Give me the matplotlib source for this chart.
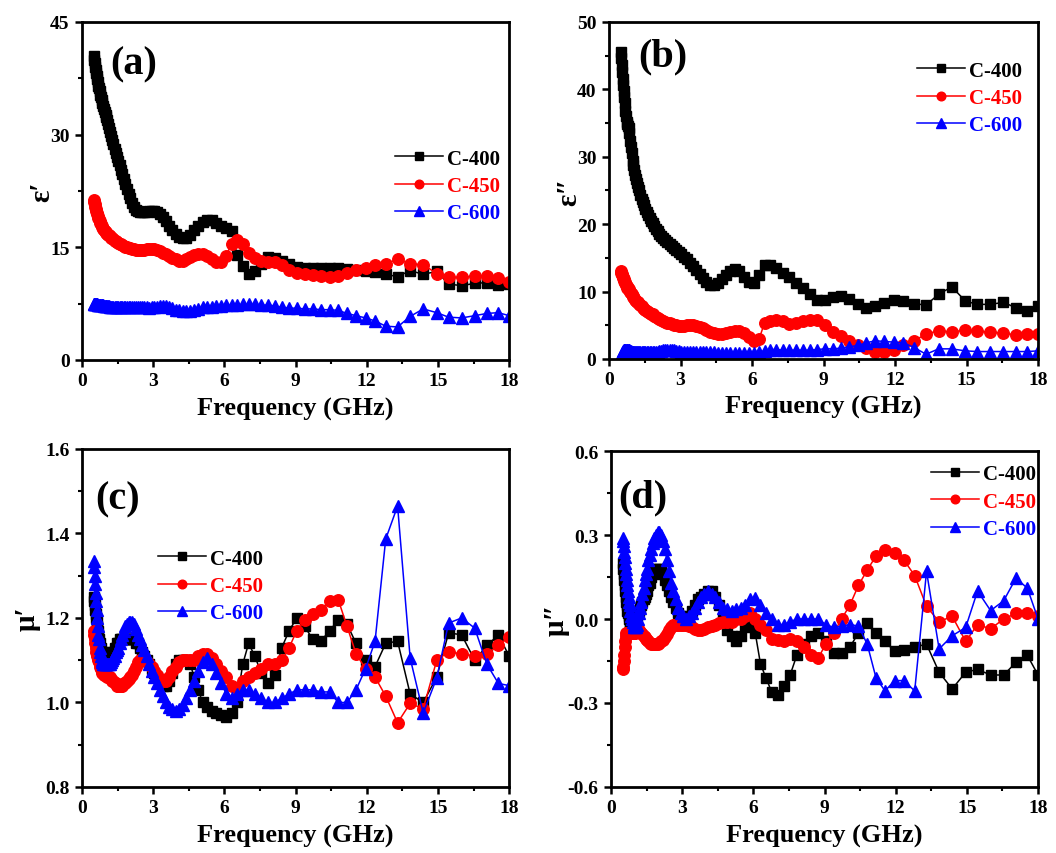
import matplotlib
matplotlib.use("Agg")
import matplotlib.pyplot as plt
from matplotlib.ticker import MultipleLocator

# ================ Data ================
FREQ = [0.50, 0.52, 0.54, 0.56, 0.58, 0.60, 0.62, 0.64, 0.66, 0.69,
        0.71, 0.74, 0.77, 0.79, 0.82, 0.85, 0.89, 0.92, 0.95, 0.99,
        1.02, 1.06, 1.10, 1.14, 1.18, 1.23, 1.27, 1.32, 1.37, 1.42,
        1.47, 1.52, 1.58, 1.64, 1.70, 1.76, 1.83, 1.90, 1.97, 2.04,
        2.11, 2.19, 2.27, 2.36, 2.45, 2.54, 2.63, 2.73, 2.83, 2.93,
        3.04, 3.16, 3.28, 3.40, 3.53, 3.66, 3.80, 3.94, 4.09, 4.24,
        4.40, 4.56, 4.73, 4.90, 5.08, 5.27, 5.46, 5.66, 5.87, 6.08,
        6.30, 6.53, 6.77, 7.02, 7.28, 7.55, 7.83, 8.12, 8.42, 8.73,
        9.05, 9.38, 9.72, 10.07, 10.43, 10.80, 11.17, 11.55, 11.95, 12.35,
        12.80, 13.30, 13.83, 14.38, 14.95, 15.45, 16.00, 16.55, 17.07, 17.55,
        18.00]

SAMPLES = ["C-400", "C-450", "C-600"]

# (a) real permittivity
EPS1_C400 = [40.5, 40.0, 39.5, 39.0, 38.6, 38.2, 37.8, 37.4, 37.0, 36.5,
             36.2, 35.8, 35.3, 35.0, 34.6, 34.2, 33.8, 33.4, 33.0, 32.6,
             32.3, 31.9, 31.4, 30.9, 30.4, 29.8, 29.3, 28.7, 28.1, 27.6,
             27.0, 26.5, 25.9, 25.3, 24.7, 24.1, 23.4, 22.7, 22.1, 21.5,
             20.9, 20.4, 20.0, 19.8, 19.7, 19.7, 19.7, 19.7, 19.8, 19.8,
             19.8, 19.7, 19.5, 19.1, 18.5, 17.9, 17.3, 16.8, 16.4, 16.2,
             16.3, 16.7, 17.3, 17.9, 18.4, 18.7, 18.6, 18.2, 17.9, 17.6,
             17.2, 14.0, 12.5, 11.5, 11.8, 12.8, 13.7, 13.6, 13.2, 12.8,
             12.4, 12.3, 12.3, 12.3, 12.3, 12.2, 12.1, 12.0, 11.9, 11.7,
             11.4, 11.1, 11.9, 11.4, 11.8, 10.1, 9.9, 10.2, 10.3, 10.0,
             10.1]
EPS1_C450 = [21.3, 21.0, 20.7, 20.4, 20.1, 19.9, 19.6, 19.4, 19.2, 18.9,
             18.8, 18.5, 18.3, 18.1, 17.9, 17.7, 17.5, 17.3, 17.2, 17.0,
             16.9, 16.8, 16.7, 16.6, 16.5, 16.3, 16.2, 16.1, 15.9, 15.8,
             15.7, 15.6, 15.5, 15.4, 15.3, 15.2, 15.1, 15.0, 14.9, 14.9,
             14.8, 14.8, 14.7, 14.7, 14.7, 14.7, 14.7, 14.8, 14.8, 14.8,
             14.8, 14.7, 14.5, 14.3, 14.1, 13.9, 13.6, 13.4, 13.2, 13.2,
             13.4, 13.7, 14.0, 14.1, 14.1, 13.9, 13.5, 13.1, 13.0, 13.9,
             15.5, 16.0, 15.4, 14.3, 13.6, 13.2, 13.1, 13.0, 12.6, 12.0,
             11.6, 11.4, 11.3, 11.2, 11.1, 11.2, 11.6, 12.0, 12.3, 12.6,
             12.8, 13.4, 12.8, 12.7, 11.5, 11.0, 11.0, 11.2, 11.2, 10.9,
             10.4]
EPS1_C600 = [7.4, 7.4, 7.4, 7.4, 7.4, 7.4, 7.4, 7.4, 7.3, 7.3,
             7.3, 7.3, 7.3, 7.3, 7.3, 7.3, 7.3, 7.2, 7.2, 7.2,
             7.2, 7.2, 7.2, 7.2, 7.1, 7.1, 7.1, 7.1, 7.1, 7.1,
             7.1, 7.0, 7.0, 7.0, 7.0, 7.0, 7.0, 7.0, 7.0, 7.0,
             7.0, 7.0, 7.0, 7.0, 7.0, 7.0, 7.0, 7.0, 6.9, 7.0,
             7.0, 7.1, 7.2, 7.2, 7.2, 7.1, 6.9, 6.7, 6.6, 6.5,
             6.5, 6.5, 6.6, 6.8, 7.0, 7.1, 7.1, 7.2, 7.2, 7.3,
             7.3, 7.3, 7.4, 7.4, 7.4, 7.3, 7.3, 7.2, 7.0, 6.9,
             6.9, 6.8, 6.8, 6.7, 6.7, 6.6, 6.2, 5.9, 5.6, 5.2,
             4.5, 4.4, 5.8, 6.8, 6.3, 5.7, 5.6, 5.9, 6.2, 6.3,
             5.9]

# (b) imaginary permittivity
EPS2_C400 = [45.6, 44.6, 43.6, 42.6, 41.6, 40.7, 39.8, 38.9, 38.0, 36.8,
             36.0, 35.2, 34.8, 34.5, 34.2, 33.6, 32.4, 31.4, 30.5, 29.4,
             28.8, 28.0, 27.3, 26.7, 26.1, 25.5, 25.0, 24.4, 23.8, 23.3,
             22.8, 22.3, 21.8, 21.3, 20.9, 20.5, 20.1, 19.7, 19.3, 19.0,
             18.6, 18.3, 18.0, 17.7, 17.4, 17.1, 16.8, 16.5, 16.2, 15.9,
             15.6, 15.2, 14.8, 14.3, 13.8, 13.2, 12.6, 12.0, 11.4, 11.0,
             11.0, 11.3, 11.8, 12.4, 13.0, 13.3, 13.0, 12.2, 11.4, 11.2,
             12.5, 13.9, 14.0, 13.5, 12.8, 12.1, 11.3, 10.5, 9.6, 8.8,
             8.7, 9.2, 9.4, 8.9, 8.2, 7.5, 7.8, 8.3, 8.8, 8.6,
             8.2, 8.0, 9.6, 10.7, 8.6, 8.1, 8.1, 8.4, 7.6, 7.1,
             7.8]
EPS2_C450 = [13.0, 12.8, 12.6, 12.4, 12.2, 12.0, 11.8, 11.6, 11.4, 11.2,
             11.0, 10.8, 10.6, 10.5, 10.4, 10.3, 10.0, 9.8, 9.6, 9.4,
             9.2, 9.0, 8.8, 8.6, 8.5, 8.4, 8.2, 8.0, 7.8, 7.6,
             7.4, 7.3, 7.1, 6.9, 6.8, 6.7, 6.6, 6.4, 6.3, 6.1,
             5.9, 5.8, 5.6, 5.5, 5.4, 5.3, 5.2, 5.1, 5.0, 4.9,
             4.9, 4.9, 5.0, 5.0, 5.0, 4.9, 4.8, 4.6, 4.3, 4.0,
             3.8, 3.7, 3.7, 3.8, 4.0, 4.2, 4.1, 3.8, 3.2, 2.7,
             3.0, 5.4, 5.6, 5.8, 5.6, 5.2, 5.3, 5.6, 5.8, 5.8,
             5.0, 4.0, 3.4, 2.6, 2.0, 1.6, 1.0, 1.1, 1.3, 2.0,
             2.7, 3.7, 4.2, 4.0, 4.3, 4.1, 4.0, 3.8, 3.6, 3.7,
             3.7]
EPS2_C600 = [0.3, 0.5, 0.7, 0.9, 1.1, 1.2, 1.3, 1.4, 1.4, 1.4,
             1.4, 1.4, 1.4, 1.3, 1.3, 1.3, 1.2, 1.2, 1.1, 1.1,
             1.0, 1.0, 1.0, 1.0, 1.0, 1.0, 1.0, 1.0, 1.0, 1.0,
             1.0, 1.0, 1.0, 1.0, 1.0, 1.0, 1.1, 1.1, 1.1, 1.1,
             1.2, 1.2, 1.3, 1.3, 1.3, 1.3, 1.3, 1.3, 1.2, 1.2,
             1.1, 1.1, 1.0, 1.0, 1.0, 1.0, 1.0, 1.0, 1.0, 1.0,
             1.0, 0.9, 0.9, 0.9, 0.9, 0.9, 0.9, 0.9, 0.9, 0.9,
             1.0, 1.2, 1.4, 1.4, 1.3, 1.3, 1.3, 1.3, 1.3, 1.4,
             1.5, 1.5, 1.6, 1.8, 2.0, 2.4, 2.7, 2.6, 2.5, 2.4,
             1.7, 0.7, 1.5, 1.5, 1.2, 1.1, 1.1, 1.1, 1.1, 1.1,
             1.2]

# (c) real permeability
MU1_C400 = [1.25, 1.24, 1.23, 1.22, 1.21, 1.20, 1.19, 1.18, 1.17, 1.16,
            1.15, 1.14, 1.13, 1.13, 1.12, 1.12, 1.11, 1.11, 1.11, 1.11,
            1.11, 1.11, 1.11, 1.11, 1.11, 1.11, 1.12, 1.12, 1.13, 1.13,
            1.14, 1.14, 1.15, 1.15, 1.15, 1.15, 1.15, 1.15, 1.15, 1.15,
            1.15, 1.15, 1.14, 1.14, 1.13, 1.12, 1.11, 1.10, 1.09, 1.08,
            1.07, 1.06, 1.05, 1.04, 1.04, 1.05, 1.07, 1.09, 1.10, 1.10,
            1.10, 1.09, 1.06, 1.03, 1.00, 0.99, 0.98, 0.975, 0.97, 0.965,
            0.975, 1.00, 1.09, 1.14, 1.11, 1.07, 1.045, 1.065, 1.13, 1.17,
            1.20, 1.18, 1.15, 1.145, 1.17, 1.195, 1.185, 1.14, 1.10, 1.085,
            1.14, 1.145, 1.02, 1.00, 1.06, 1.165, 1.16, 1.10, 1.135, 1.16,
            1.11]
MU1_C450 = [1.17, 1.16, 1.15, 1.14, 1.13, 1.12, 1.115, 1.11, 1.105, 1.10,
            1.095, 1.09, 1.085, 1.08, 1.075, 1.07, 1.07, 1.065, 1.065, 1.065,
            1.065, 1.06, 1.06, 1.06, 1.06, 1.055, 1.05, 1.05, 1.045, 1.045,
            1.04, 1.04, 1.04, 1.04, 1.04, 1.045, 1.045, 1.05, 1.055, 1.06,
            1.065, 1.075, 1.085, 1.095, 1.10, 1.10, 1.10, 1.095, 1.09, 1.085,
            1.075, 1.065, 1.055, 1.05, 1.05, 1.06, 1.075, 1.085, 1.095, 1.10,
            1.10, 1.10, 1.10, 1.11, 1.115, 1.115, 1.105, 1.09, 1.075, 1.06,
            1.04, 1.035, 1.05, 1.06, 1.07, 1.08, 1.09, 1.09, 1.10, 1.13,
            1.17, 1.195, 1.21, 1.22, 1.24, 1.243, 1.18, 1.115, 1.08, 1.06,
            1.015, 0.952, 0.998, 0.985, 1.10, 1.12, 1.115, 1.11, 1.115, 1.135,
            1.155]
MU1_C600 = [1.335, 1.32, 1.30, 1.28, 1.26, 1.24, 1.22, 1.20, 1.18, 1.16,
            1.15, 1.13, 1.12, 1.11, 1.10, 1.095, 1.09, 1.09, 1.09, 1.09,
            1.09, 1.09, 1.09, 1.09, 1.09, 1.095, 1.10, 1.105, 1.11, 1.12,
            1.125, 1.13, 1.14, 1.15, 1.16, 1.17, 1.18, 1.185, 1.19, 1.19,
            1.19, 1.185, 1.175, 1.16, 1.15, 1.135, 1.125, 1.11, 1.09, 1.075,
            1.06, 1.045, 1.03, 1.015, 1.00, 0.99, 0.985, 0.98, 0.985, 0.995,
            1.01, 1.03, 1.05, 1.075, 1.095, 1.105, 1.09, 1.07, 1.045, 1.02,
            1.01, 1.02, 1.03, 1.03, 1.02, 1.01, 1.00, 1.00, 1.01, 1.02,
            1.03, 1.03, 1.03, 1.025, 1.025, 1.00, 1.00, 1.03, 1.08, 1.145,
            1.387, 1.465, 1.105, 0.975, 1.058, 1.188, 1.20, 1.176, 1.09, 1.045,
            1.04]

# (d) imaginary permeability
MU2_C400 = [0.20, 0.18, 0.16, 0.14, 0.12, 0.10, 0.08, 0.06, 0.05, 0.03,
            0.02, 0.01, 0.0, -0.01, -0.02, -0.03, -0.03, -0.03, -0.03, -0.02,
            -0.01, 0.0, 0.01, 0.02, 0.03, 0.04, 0.05, 0.06, 0.07, 0.08,
            0.09, 0.10, 0.12, 0.13, 0.15, 0.16, 0.17, 0.18, 0.18, 0.18,
            0.17, 0.16, 0.14, 0.12, 0.10, 0.08, 0.06, 0.04, 0.02, 0.01,
            0.0, 0.0, 0.01, 0.03, 0.05, 0.07, 0.08, 0.09, 0.10, 0.10,
            0.08, 0.05, 0.0, -0.04, -0.06, -0.08, -0.06, -0.03, -0.02, -0.05,
            -0.16, -0.21, -0.26, -0.27, -0.24, -0.20, -0.13, -0.09, -0.06, -0.05,
            -0.08, -0.12, -0.12, -0.10, -0.05, -0.015, -0.05, -0.08, -0.115, -0.11,
            -0.10, -0.09, -0.19, -0.25, -0.19, -0.18, -0.20, -0.20, -0.155, -0.13,
            -0.20]
MU2_C450 = [-0.18, -0.17, -0.15, -0.13, -0.10, -0.08, -0.06, -0.05, -0.05, -0.05,
            -0.05, -0.05, -0.05, -0.05, -0.05, -0.05, -0.05, -0.05, -0.05, -0.05,
            -0.05, -0.045, -0.04, -0.04, -0.04, -0.045, -0.05, -0.055, -0.06, -0.065,
            -0.07, -0.075, -0.08, -0.085, -0.09, -0.09, -0.09, -0.09, -0.09, -0.085,
            -0.08, -0.075, -0.065, -0.055, -0.04, -0.03, -0.02, -0.02, -0.02, -0.02,
            -0.02, -0.02, -0.025, -0.03, -0.035, -0.04, -0.04, -0.035, -0.03, -0.025,
            -0.02, -0.015, -0.01, -0.01, -0.01, 0.0, 0.0, 0.01, 0.02, 0.0,
            -0.02, -0.04, -0.07, -0.075, -0.08, -0.07, -0.08, -0.10, -0.13, -0.14,
            -0.09, -0.05, 0.0, 0.05, 0.12, 0.175, 0.225, 0.245, 0.235, 0.21,
            0.155, 0.045, -0.01, 0.01, -0.08, -0.02, -0.035, 0.0, 0.02, 0.02,
            0.01]
MU2_C600 = [0.29, 0.28, 0.26, 0.24, 0.22, 0.20, 0.18, 0.16, 0.14, 0.12,
            0.10, 0.08, 0.06, 0.05, 0.03, 0.01, 0.0, -0.01, -0.02, -0.03,
            -0.03, -0.03, -0.02, 0.0, 0.02, 0.04, 0.06, 0.09, 0.11, 0.14,
            0.16, 0.18, 0.21, 0.23, 0.25, 0.27, 0.29, 0.30, 0.31, 0.31,
            0.30, 0.28, 0.25, 0.21, 0.17, 0.13, 0.10, 0.07, 0.04, 0.02,
            0.01, 0.0, 0.01, 0.02, 0.04, 0.06, 0.08, 0.09, 0.10, 0.09,
            0.08, 0.06, 0.04, 0.035, 0.03, 0.035, 0.04, 0.05, 0.07, 0.075,
            0.05, 0.02, 0.0, -0.02, -0.02, -0.01, 0.0, 0.0, 0.0, 0.0,
            -0.02, -0.03, -0.025, -0.02, -0.025, -0.09, -0.21, -0.257, -0.22, -0.22,
            -0.257, 0.17, -0.107, -0.06, -0.03, 0.10, 0.03, 0.065, 0.146, 0.11,
            0.0]

# ================ Style ================
plt.rcParams['font.family'] = ['Liberation Serif', 'DejaVu Serif']
plt.rcParams['font.weight'] = 'bold'
plt.rcParams['axes.unicode_minus'] = False

COLORS = ['black', 'red', 'blue']
MARKERS = [('s', 7.5), ('o', 8.3), ('^', 9.3)]


def draw_panel(ax, series, ylim, ymajor, yminor, ylabel, letter,
               letter_pos, legend_pos, label_x, yfmt):
    for vals, name, color, (mk, ms) in zip(series, SAMPLES, COLORS, MARKERS):
        ax.plot(FREQ, vals, color=color, marker=mk, markersize=ms,
                linewidth=1.1, label=name)

    ax.set_xlim(0, 18)
    ax.set_ylim(*ylim)
    ax.xaxis.set_major_locator(MultipleLocator(3))
    ax.xaxis.set_minor_locator(MultipleLocator(1.5))
    ax.yaxis.set_major_locator(MultipleLocator(ymajor))
    ax.yaxis.set_minor_locator(MultipleLocator(yminor))
    ax.yaxis.set_major_formatter(yfmt)

    for sp in ax.spines.values():
        sp.set_linewidth(2.0)
    ax.tick_params(which='major', direction='out', length=5, width=1.8,
                   labelsize=14, pad=4)
    ax.tick_params(which='minor', direction='out', length=3, width=1.5)
    for lab in ax.get_xticklabels() + ax.get_yticklabels():
        lab.set_fontweight('bold')

    ax.set_xlabel('Frequency (GHz)', fontsize=19, fontweight='bold', labelpad=5)
    ax.set_ylabel(ylabel, fontsize=21, fontweight='bold')
    ax.yaxis.set_label_coords(label_x, 0.5)

    ax.text(letter_pos[0], letter_pos[1], letter, transform=ax.transAxes,
            fontsize=29, fontweight='bold', va='center', ha='left')

    ax.legend(loc='upper left', bbox_to_anchor=legend_pos, frameon=False,
              handlelength=2.3, handletextpad=0.2,
              labelspacing=0.35, borderpad=0, borderaxespad=0,
              markerscale=0.75, labelcolor='linecolor',
              prop={'weight': 'bold', 'size': 15})


fig = plt.figure(figsize=(10.56, 8.54), dpi=100)

ax_a = fig.add_axes([0.0777, 0.5773, 0.4044, 0.3958])
ax_b = fig.add_axes([0.5767, 0.5785, 0.4063, 0.3946])
ax_c = fig.add_axes([0.0777, 0.0773, 0.4044, 0.3958])
ax_d = fig.add_axes([0.5786, 0.0773, 0.4044, 0.3934])

draw_panel(ax_a, [EPS1_C400, EPS1_C450, EPS1_C600], (0, 45), 15, 7.5,
           'ε′', '(a)', (0.066, 0.876), (0.733, 0.625), -0.063, '{x:.0f}')
draw_panel(ax_b, [EPS2_C400, EPS2_C450, EPS2_C600], (0, 50), 10, 5,
           'ε″', '(b)', (0.068, 0.90), (0.718, 0.885), -0.063, '{x:.0f}')
draw_panel(ax_c, [MU1_C400, MU1_C450, MU1_C600], (0.8, 1.6), 0.2, 0.1,
           'μ′', '(c)', (0.030, 0.852), (0.178, 0.705), -0.096, '{x:.1f}')
draw_panel(ax_d, [MU2_C400, MU2_C450, MU2_C600], (-0.6, 0.6), 0.3, 0.15,
           'μ″', '(d)', (0.016, 0.863), (0.749, 0.96), -0.096, '{x:.1f}')

fig.savefig('out.png', dpi=100)
